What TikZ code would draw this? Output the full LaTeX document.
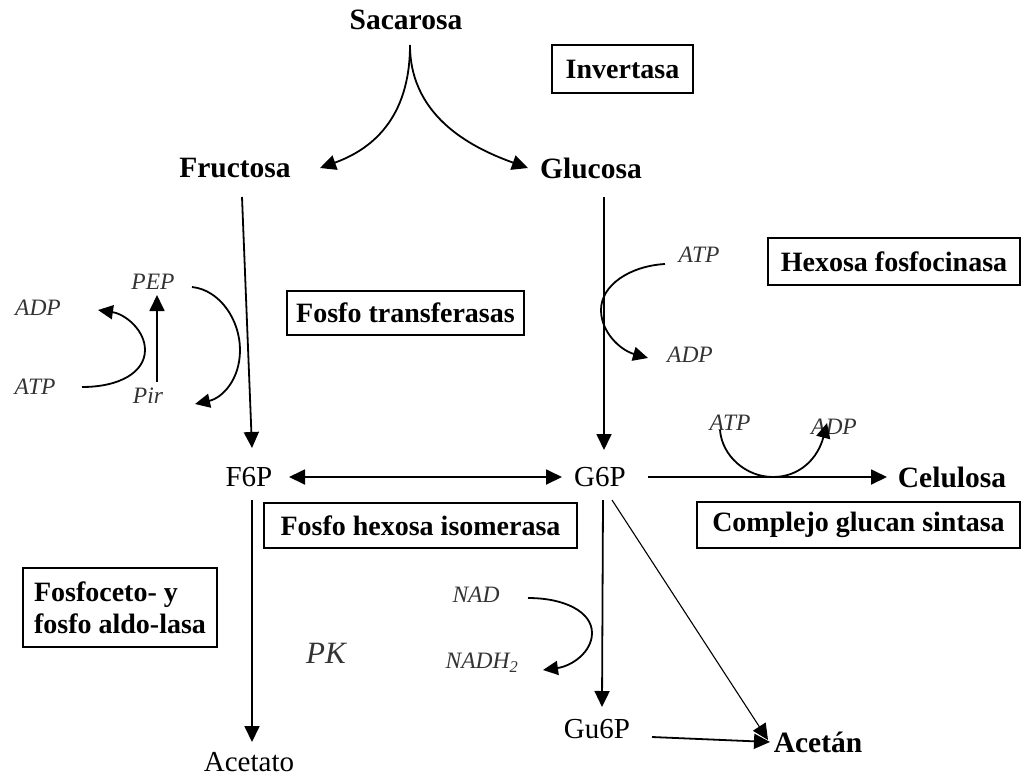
\documentclass[tikz,border=0pt]{standalone}
\usepackage{fontspec}
\setmainfont{Liberation Serif}
\usetikzlibrary{arrows.meta,calc}

\tikzset{
  metab/.style={inner sep=0pt, font=\fontsize{29.5}{32}\selectfont\bfseries},
  plain/.style={inner sep=0pt, font=\fontsize{29}{32}\selectfont},
  cofac/.style={inner sep=0pt, text=black!80, font=\fontsize{23.5}{27}\selectfont\itshape},
  enzyme/.style={draw, line width=1.4pt, inner sep=0pt, align=center,
                 font=\fontsize{28}{32}\selectfont\bfseries},
  tip/.style={Triangle[length=16pt,width=15pt]},
  arr/.style={line width=1.8pt, -{Triangle[length=16pt,width=15pt]}},
  dblarr/.style={line width=1.8pt, {Triangle[length=16pt,width=15pt]}-{Triangle[length=16pt,width=15pt]}},
  thinarr/.style={line width=1.1pt, -{Triangle[length=16pt,width=15pt]}},
  curv/.style={line width=1.8pt, -{Triangle[length=15pt,width=14pt]}},
}

\begin{document}
\begin{tikzpicture}[x=1pt, y=-1pt]
\useasboundingbox (0,0) rectangle (1023,777);

% metabolites
\node[metab] (sac)    at (406,20)  {Sacarosa};
\node[metab] (fruc)   at (235,168) {Fructosa};
\node[metab] (gluc)   at (591,168) {Glucosa};
\node[plain] (f6p)    at (249,477) {F6P};
\node[plain] (g6p)    at (600,477) {G6P};
\node[metab] (cel)    at (952,477) {Celulosa};
\node[plain] (acet)   at (249,762) {Acetato};
\node[plain] (gu6p)   at (597,729) {Gu6P};
\node[metab] (acetan) at (818,742) {Acetán};

% cofactors
\node[cofac] (pep)   at (153,282) {PEP};
\node[cofac] (adpa)  at (38,308)  {ADP};
\node[cofac] (atpa)  at (35,387)  {ATP};
\node[cofac] (pir)   at (148,396) {Pir};
\node[cofac] (atpb)  at (699,255) {ATP};
\node[cofac] (adpb)  at (690,355) {ADP};
\node[cofac] (atpc)  at (730,423) {ATP};
\node[cofac] (adpc)  at (834,427) {ADP};
\node[cofac] (nad)   at (476,595) {NAD};
\node[cofac] (nadh)  at (482,663) {NADH\textsubscript{2}};
\node[cofac, font=\fontsize{31}{34}\selectfont\itshape] (pk) at (326,653) {PK};

% enzymes
\node[enzyme, minimum width=141pt, minimum height=48pt] (inv)  at (622.5,69)  {Invertasa};
\node[enzyme, minimum width=252pt, minimum height=47pt] (hex)  at (894,261.5) {Hexosa fosfocinasa};
\node[enzyme, minimum width=237pt, minimum height=44pt] (ftr)  at (405.5,313) {Fosfo transferasas};
\node[enzyme, minimum width=313pt, minimum height=45pt] (fhi)  at (420.5,525.5) {Fosfo hexosa isomerasa};
\node[enzyme, minimum width=323pt, minimum height=46pt] (cgs)  at (858.5,525) {Complejo glucan sintasa};
\node[enzyme, minimum width=194pt, minimum height=79pt, align=left] (fal) at (120,607.5)
  {Fosfoceto- y\\fosfo aldo-lasa};

% sucrose splitting
\coordinate (split) at ($(sac)+(4,25)$);
\draw[arr] (split) .. controls ($(split)+(0,75)$) and ($(fruc)+(135,-18)$) .. ($(fruc)+(85,0)$);
\draw[arr] (split) .. controls ($(split)+(0,75)$) and ($(gluc)+(-113,-18)$) .. ($(gluc)+(-63,0)$);

% main pathway
\draw[arr] ($(fruc)+(7,29)$) -- ($(f6p)+(3,-29)$);
\draw[arr] ($(gluc)+(13,29)$) -- ($(g6p)+(4,-27)$);
\draw[dblarr] ($(f6p)+(40,0)$) -- ($(g6p)+(-38,0)$);
\draw[arr] ($(g6p)+(48,0)$) -- ($(cel)+(-65,0)$);
\draw[arr] ($(f6p)+(3,23)$) -- ($(acet)+(3,-20)$);
\draw[arr] ($(g6p)+(3,23)$) -- ($(gu6p)+(5,-22)$);
\draw[thinarr] ($(g6p)+(12,23)$) -- ($(acetan)+(-50,-2)$);
\draw[arr] ($(gu6p)+(55,8)$) -- ($(acetan)+(-48,0)$);

% PEP / pyruvate exchange
\draw[arr] ($(pir)+(9,-14)$) -- ($(pep)+(4,13)$);
\draw[curv] ($(atpa)+(47,0)$) .. controls (120,387) and (145,372) .. (145,350)
  .. controls (145,330) and (125,314) .. ($(adpa)+(60,2)$);
\draw[curv] ($(pep)+(39,5)$) .. controls (220,290) and (240,320) .. (240,350)
  .. controls (240,380) and (222,398) .. ($(pir)+(47,8)$);

% hexose phosphorylation
\draw[curv] ($(atpb)+(-34,9)$) .. controls (630,266) and (601,285) .. (601,310)
  .. controls (601,332) and (620,350) .. ($(adpb)+(-42,3)$);

% cellulose synthesis
\draw[curv] ($(atpc)+(-10,7)$) .. controls (722,456) and (746,477) .. (773,477)
  .. controls (800,477) and (818,458) .. ($(adpc)+(-7,-4)$);

% NAD reduction
\draw[curv] ($(nad)+(52,3)$) .. controls (565,598) and (592,612) .. (592,633)
  .. controls (592,652) and (572,666) .. ($(nadh)+(61,7)$);

\end{tikzpicture}
\end{document}
